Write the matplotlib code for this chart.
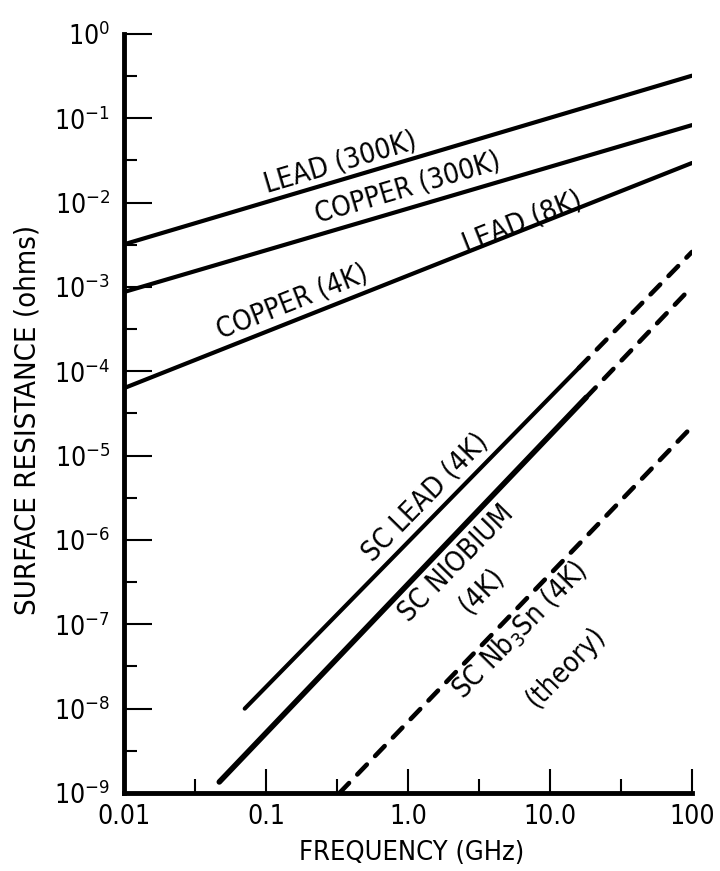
import numpy as np
import matplotlib
matplotlib.use("Agg")
import matplotlib.pyplot as plt
from matplotlib.ticker import FixedLocator, FuncFormatter, NullFormatter

# fuente estrecha, parecida a la del grafico original
plt.rcParams['font.family'] = ['DejaVu Sans']
plt.rcParams['font.stretch'] = 'condensed'
plt.rcParams['mathtext.fontset'] = 'dejavusans'

# datos (GHz, ohms)
lead300_f = [0.01, 100]
lead300_r = [3.2e-3, 0.32]
cu300_f = [0.01, 100]
cu300_r = [8.7e-4, 8.3e-2]
cu4_f = [0.01, 100]
cu4_r = [6.3e-5, 2.95e-2]

sc_lead_f = [0.071, 16]
sc_lead_r = [1.0e-8, 1.1e-4]
sc_lead_ext_f = [16, 100]
sc_lead_ext_r = [1.1e-4, 2.6e-3]

sc_nb_f = [0.047, 18]
sc_nb_r = [1.35e-9, 4.9e-5]
sc_nb_ext_f = [18, 94]
sc_nb_ext_r = [4.9e-5, 9.0e-4]

nb3sn_f = [0.33, 100]
nb3sn_r = [1.0e-9, 2.2e-5]

x_ticks = [0.01, 0.1, 1.0, 10.0, 100]
x_labels = ['0.01', '0.1', '1.0', '10.0', '100']
y_exps = list(range(-9, 1))

fig = plt.figure(figsize=(7.2, 8.71), dpi=100)
ax = fig.add_axes([0.172, 0.0896, 0.789, 0.8714])
ax.set_xscale('log')
ax.set_yscale('log')
ax.set_xlim(0.01, 100)
ax.set_ylim(1e-9, 1)

kw = dict(color='black', solid_capstyle='round', dash_capstyle='round')
ax.plot(lead300_f, lead300_r, lw=3.0, **kw)
ax.plot(cu300_f, cu300_r, lw=3.0, **kw)
ax.plot(cu4_f, cu4_r, lw=3.0, **kw)
ax.plot(sc_lead_f, sc_lead_r, lw=3.0, **kw)
ax.plot(sc_lead_ext_f, sc_lead_ext_r, lw=3.3, dashes=(3, 2.6), **kw)
ax.plot(sc_nb_f, sc_nb_r, lw=4.0, **kw)
ax.plot(sc_nb_ext_f, sc_nb_ext_r, lw=3.3, dashes=(3, 2.6), **kw)
ax.plot(nb3sn_f, nb3sn_r, lw=3.3, dashes=(3, 2.6), **kw)

for s in ['top', 'right']:
    ax.spines[s].set_visible(False)
for s in ['left', 'bottom']:
    ax.spines[s].set_linewidth(3.5)

ax.xaxis.set_major_locator(FixedLocator(x_ticks))
ax.xaxis.set_major_formatter(FuncFormatter(lambda v, p: x_labels[p] if p is not None and p < len(x_labels) else ''))
ax.xaxis.set_minor_locator(FixedLocator([10 ** (k + 0.5) for k in range(-2, 2)]))
ax.xaxis.set_minor_formatter(NullFormatter())
ax.yaxis.set_major_locator(FixedLocator([10.0 ** e for e in y_exps]))
ax.yaxis.set_major_formatter(FuncFormatter(lambda v, p: r'$\mathregular{10^{%d}}$' % round(np.log10(v))))
ax.yaxis.set_minor_locator(FixedLocator([10 ** (k + 0.5) for k in range(-9, 0)]))
ax.yaxis.set_minor_formatter(NullFormatter())

ax.tick_params(axis='x', which='major', direction='in', length=17, width=1.5, labelsize=19, pad=8)
ax.tick_params(axis='x', which='minor', direction='in', length=10, width=1.5)
ax.tick_params(axis='y', which='major', direction='in', length=20, width=1.5, labelsize=19, pad=10)
ax.tick_params(axis='y', which='minor', direction='in', length=9, width=1.5)

fig.text(412, 871 - 853, 'FREQUENCY (GHz)', fontsize=19.5, ha='center', va='center', transform=None)
fig.text(28, 871 - 420, 'SURFACE RESISTANCE (ohms)', fontsize=21, rotation=90,
         ha='center', va='center', transform=None)

def label(txt, xp, yp, ang):
    ax.text(xp, 871 - yp, txt, rotation=ang, rotation_mode='anchor', fontsize=20,
            ha='center', va='center', transform=None)

label('LEAD (300K)', 340, 163, 16.5)
label('COPPER (300K)', 408, 188, 16.5)
label('LEAD (8K)', 522, 222, 21.6)
label('COPPER (4K)', 292, 302, 21.6)
label('SC LEAD (4K)', 425, 497, 45.6)
label('SC NIOBIUM', 456, 563, 45.6)
label('(4K)', 482, 590, 45.6)
label(r'SC Nb$_\mathregular{3}$Sn (4K)', 520, 630, 45.6)
label('(theory)', 566, 667, 45.6)

fig.savefig('out.png', dpi=100, facecolor='white')
